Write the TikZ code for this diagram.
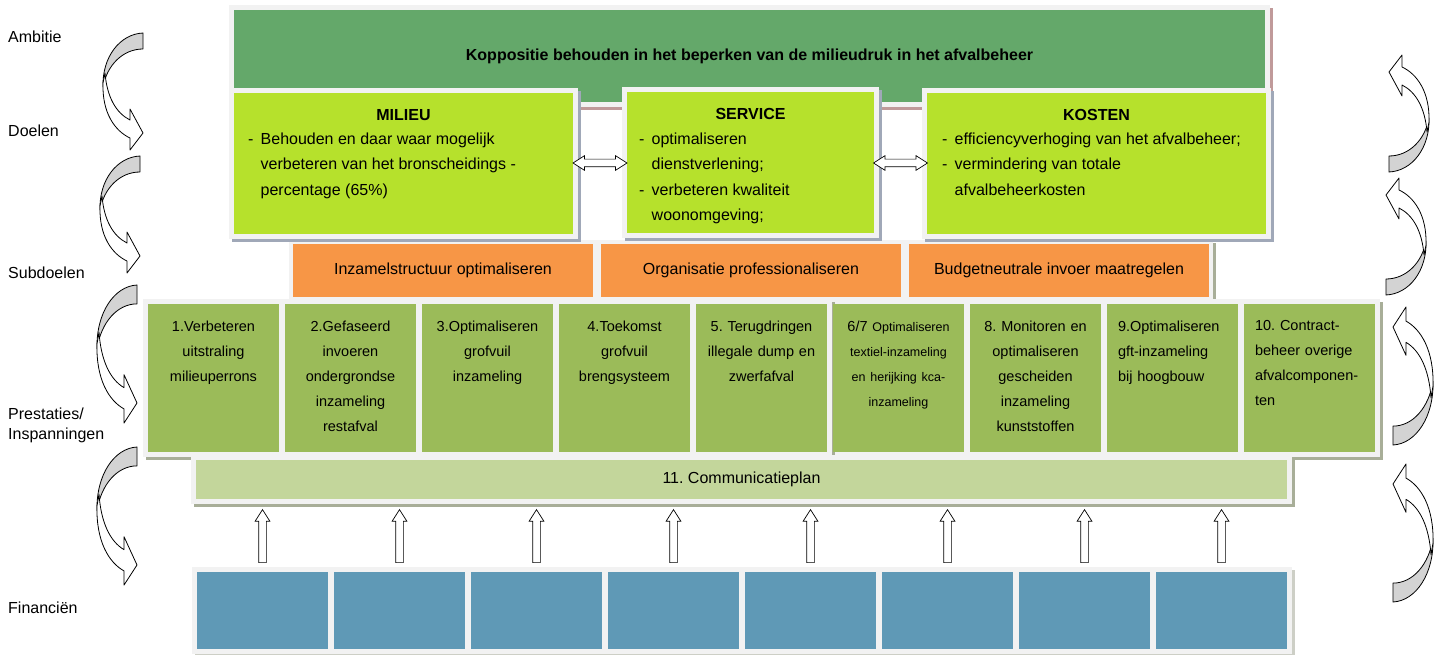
\documentclass[tikz,border=0pt]{standalone}
\usepackage{fontspec}
\setmainfont{Liberation Sans}
\usetikzlibrary{positioning,fit,backgrounds,shapes.arrows}

\definecolor{topgreen}{RGB}{100,168,106}
\definecolor{lime}{RGB}{182,225,44}
\definecolor{subgoal}{RGB}{247,150,70}
\definecolor{task}{RGB}{155,187,89}
\definecolor{comm}{RGB}{195,214,155}
\definecolor{money}{RGB}{95,153,182}
\definecolor{framegray}{RGB}{242,242,242}
\definecolor{topshadow}{RGB}{192,154,154}
\definecolor{limeshadow}{RGB}{160,168,184}
\definecolor{rowshadow}{RGB}{168,174,152}
\definecolor{moneyshadow}{RGB}{205,207,198}
\definecolor{curlgray}{RGB}{211,211,211}

\newcommand{\smalltxt}[1]{{\fontsize{12.5}{25}\selectfont #1}}
\frenchspacing

\tikzset{
  curlarrow/.pic={
    \filldraw[fill=curlgray, draw=black, line width=0.8pt, line join=round]
      (0,0) .. controls (-23,1) and (-41,24) .. (-40,54)
      .. controls (-36,32) and (-20,16) .. (0,16) -- cycle;
    \filldraw[fill=white, draw=black, line width=0.8pt, line join=round]
      (-40,50) .. controls (-41,80) and (-28,98) .. (-13,105)
      -- (-13,117) -- (0,100) -- (-13,76) -- (-13,87)
      .. controls (-27,80) and (-36,64) .. (-38,40) -- cycle;
  }
}

\begin{document}
\begin{tikzpicture}[x=1pt, y=-1pt,
  box/.style={anchor=north west, inner sep=0pt, outer sep=0pt},
  goalbox/.style={box, fill=lime,
    preaction={draw=limeshadow, fill=limeshadow, line width=10pt, transform canvas={shift={(3pt,-3pt)}}},
    preaction={draw=framegray, line width=10pt}},
  rowframe/.style={fill=framegray, inner sep=5pt,
    preaction={fill=#1, transform canvas={shift={(3pt,-3pt)}}}},
  subbox/.style={box, fill=subgoal, minimum width=300pt, minimum height=53pt, font=\fontsize{16}{19}\selectfont},
  taskbox/.style={box, fill=task, minimum width=131pt, minimum height=148pt},
  moneybox/.style={box, fill=money, minimum width=131pt, minimum height=77pt},
  tasktext/.style={anchor=north, inner sep=0pt, text width=109pt, font=\fontsize{14.5}{25}\selectfont},
  goaltitle/.style={inner sep=0pt, font=\bfseries\fontsize{16}{19}\selectfont},
  goaltext/.style={inner sep=0pt, font=\fontsize{16}{25.5}\selectfont},
  lab/.style={anchor=west, inner sep=0pt, font=\fontsize{16}{20}\selectfont},
  dblarrow/.style={double arrow, draw=black, fill=white, line width=0.7pt, inner xsep=0pt, inner ysep=3.5pt,
    minimum height=54pt, double arrow head extend=3.5pt, double arrow tip angle=65},
  uparrow/.style={single arrow, draw=black, fill=white, line width=0.7pt, inner xsep=0pt, inner ysep=3.5pt,
    minimum height=53pt, single arrow head extend=3.5pt, single arrow tip angle=65, rotate=90}]

  \useasboundingbox (0,0) rectangle (1442,655);

  % levels on the left
  \node[lab] (lamb) at (8,37) {Ambitie};
  \node[lab] (ldoel) at (8,131) {Doelen};
  \node[lab] (lsub) at (8,273) {Subdoelen};
  \node[lab, align=left] (lprest) at (8,425) {Prestaties/\\Inspanningen};
  \node[lab] (lfin) at (8,608) {Financiën};

  \pic at (143,33) {curlarrow};
  \pic at (140,156) {curlarrow};
  \pic[yscale=1.18] at (137,285) {curlarrow};
  \pic[yscale=1.18] at (137,447) {curlarrow};

  \pic[rotate=180] at (1389,172) {curlarrow};
  \pic[rotate=180] at (1386,295) {curlarrow};
  \pic[rotate=180, yscale=1.18] at (1393,445) {curlarrow};
  \pic[rotate=180, yscale=1.18] at (1393,602) {curlarrow};

  % ambitie
  \node[box, fill=topgreen, minimum width=1031pt, minimum height=92pt] (ambitie) at (234,10) {};
  \node[inner sep=0pt, font=\bfseries\fontsize{16}{19}\selectfont] (ambitietxt) at (ambitie.center)
    {Koppositie behouden in het beperken van de milieudruk in het afvalbeheer};

  % doelen
  \node[goalbox, minimum width=339pt, minimum height=141pt] (milieu) at (234,93) {};
  \node[goalbox, minimum width=247pt, minimum height=141pt] (service) at (627,92) {};
  \node[goalbox, minimum width=339pt, minimum height=141pt] (kosten) at (927,93) {};

  \node[goaltitle, below=16pt of milieu.north] (milieut) {MILIEU};
  \node[goaltitle, below=16pt of service.north] (servicet) {SERVICE};
  \node[goaltitle, below=16pt of kosten.north] (kostent) {KOSTEN};

  \node[goaltext, below right=33pt and 14pt of milieu.north west] (milieub)
    {\begin{tabular}{@{}p{12.5pt}@{}l@{}}
      -&Behouden en daar waar mogelijk\\
      &verbeteren van het bronscheidings -\\
      &percentage (65\%)
    \end{tabular}};
  \node[goaltext, below right=34pt and 12pt of service.north west] (serviceb)
    {\begin{tabular}{@{}p{12.5pt}@{}l@{}}
      -&optimaliseren\\
      &dienstverlening;\\
      -&verbeteren kwaliteit\\
      &woonomgeving;
    \end{tabular}};
  \node[goaltext, below right=33pt and 15pt of kosten.north west] (kostenb)
    {\begin{tabular}{@{}p{12.5pt}@{}l@{}}
      -&efficiencyverhoging van het afvalbeheer;\\
      -&vermindering van totale\\
      &afvalbeheerkosten
    \end{tabular}};

  \path (milieu.east) -- (service.west) node[midway, dblarrow] (ms) {};
  \path (service.east) -- (kosten.west) node[midway, dblarrow] (sk) {};

  % subdoelen
  \foreach \i/\txt in {1/Inzamelstructuur optimaliseren, 2/Organisatie professionaliseren,
                       3/Budgetneutrale invoer maatregelen}
    \node[subbox] (o\i) at ({293+308*(\i-1)},244) {\txt};

  % prestaties
  \foreach \i in {1,...,9}
    \node[taskbox] (t\i) at ({148+137*(\i-1)},304) {};

  \foreach \i/\al/\txt in {
      1/center/{1.Verbeteren\\uitstraling\\milieuperrons},
      2/center/{2.Gefaseerd\\invoeren\\ondergrondse\\inzameling\\restafval},
      3/center/{3.Optimaliseren\\grofvuil\\inzameling},
      4/center/{4.Toekomst\\grofvuil\\brengsysteem},
      5/center/{5. Terugdringen\\illegale dump en\\zwerfafval},
      6/center/{6/7 \smalltxt{Optimaliseren}\\\smalltxt{textiel-inzameling}\\\smalltxt{en herijking kca-}\\\smalltxt{inzameling}},
      7/center/{8. Monitoren en\\optimaliseren\\gescheiden\\inzameling\\kunststoffen},
      8/left/{9.Optimaliseren\\gft-inzameling\\bij hoogbouw},
      9/left/{10. Contract-\\beheer overige\\afvalcomponen-\\ten}}
    \node[tasktext, align=\al] (txt\i) at ([yshift=-16.5pt]t\i.north) {\txt};

  \node[box, fill=comm, minimum width=1091pt, minimum height=39pt, font=\fontsize{16}{19}\selectfont]
    (comm) at (196,460) {11. Communicatieplan};

  % financien
  \foreach \i in {1,...,8}
    \node[moneybox] (f\i) at ({197+137*(\i-1)},572) {};

  \foreach \i in {1,...,8}
    \path (f\i.north) -- (comm.south -| f\i.north) node[pos=.45, uparrow] (up\i) {};

  \begin{scope}[on background layer]
    \fill[white] (0,0) rectangle (1442,655);
    \node[rowframe=topshadow, fit=(ambitie)] (ambitieframe) {};
    \node[rowframe=rowshadow, fit=(o1)(o3), inner sep=4pt] (subframe) {};
    \node[rowframe=rowshadow, fit=(t6)(t9)] (taskframeb) {};
    \node[rowframe=rowshadow, fit=(t1)(t5)] (taskframea) {};
    \node[rowframe=rowshadow, fit=(comm)] (commframe) {};
    \node[rowframe=moneyshadow, fit=(f1)(f8)] (moneyframe) {};
  \end{scope}

\end{tikzpicture}
\end{document}
